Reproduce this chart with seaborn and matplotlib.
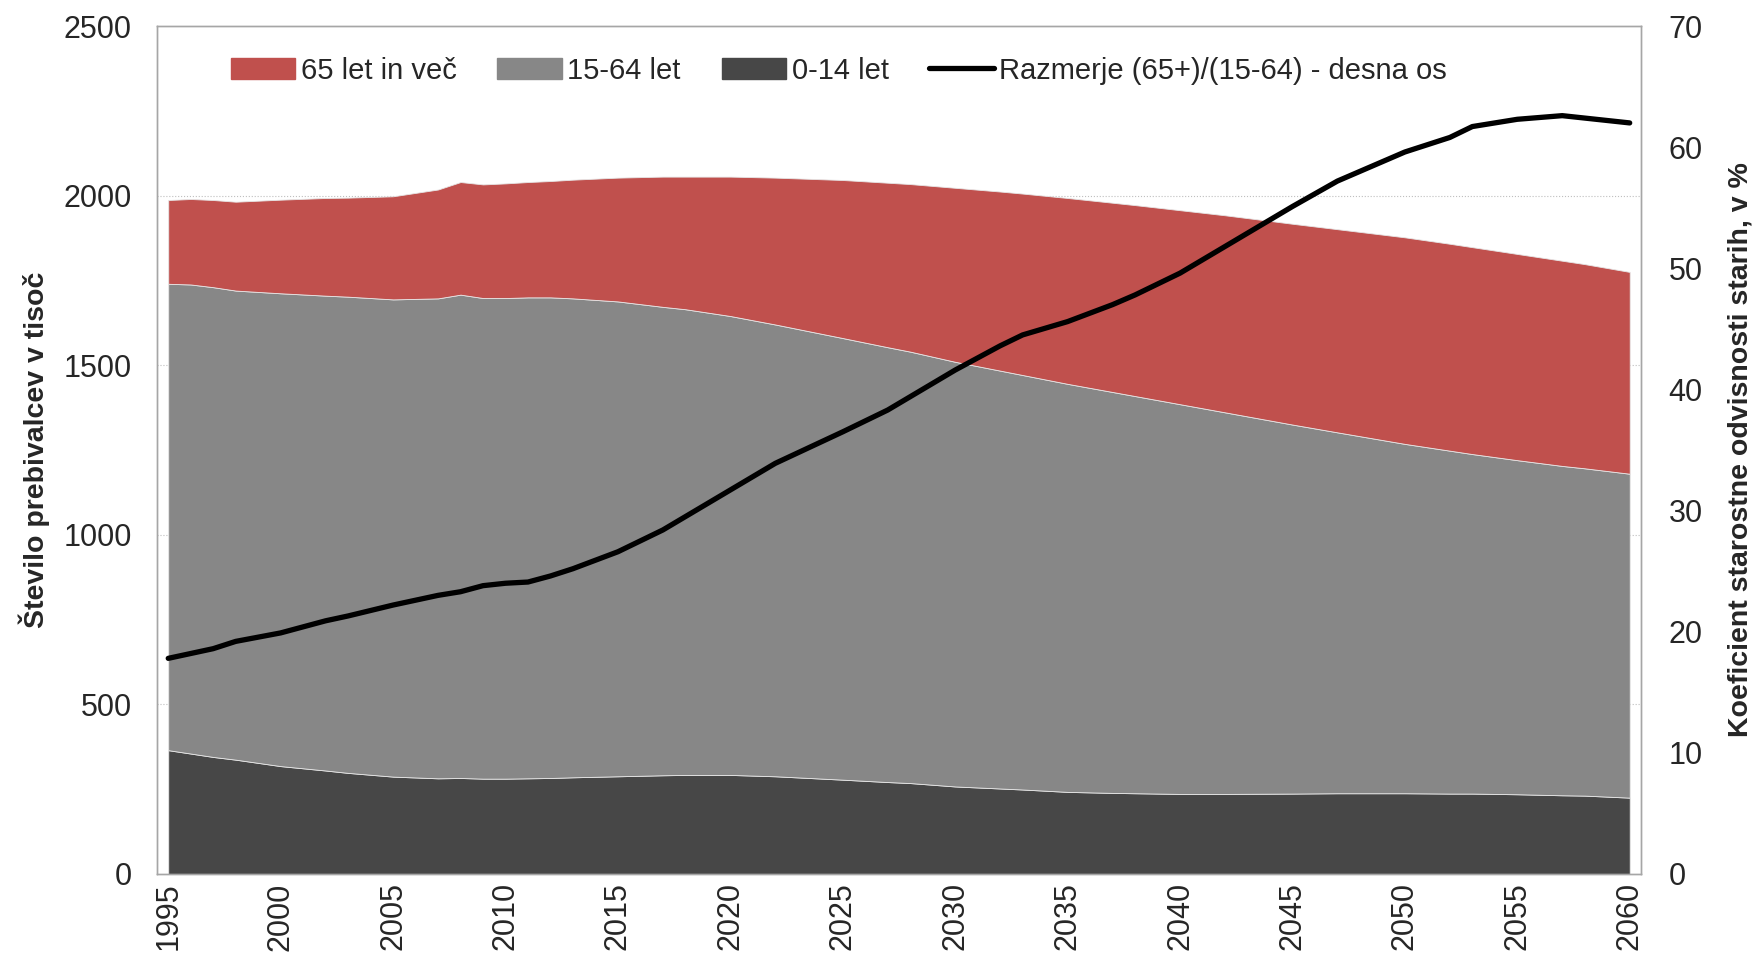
import numpy as np
import seaborn as sns
from matplotlib import pyplot as plt
from matplotlib.patches import Patch
from matplotlib.lines import Line2D

years = [1995, 1996, 1997, 1998, 2000, 2002, 2003, 2005, 2007, 2008, 2009, 2010,
         2011, 2012, 2013, 2015, 2017, 2018, 2020, 2022, 2025, 2027, 2028, 2030,
         2032, 2033, 2035, 2037, 2038, 2040, 2042, 2045, 2047, 2050, 2052, 2053,
         2055, 2057, 2058, 2060]
# population in thousands
pop_0_14 = [365, 355, 345, 337, 318, 305, 298, 287, 282, 283, 281, 281,
            282, 283, 285, 288, 291, 292, 292, 288, 278, 271, 268, 258,
            252, 249, 242, 239, 238, 236, 236, 237, 238, 238, 237, 237,
            235, 232, 231, 225]
pop_15_64 = [1375, 1383, 1385, 1383, 1394, 1400, 1404, 1407, 1415, 1425, 1417, 1417,
             1418, 1417, 1412, 1400, 1381, 1373, 1353, 1332, 1302, 1282, 1272, 1252,
             1232, 1222, 1203, 1182, 1171, 1149, 1125, 1088, 1064, 1030, 1011, 1001,
             985, 971, 965, 955]
pop_65 = [247, 252, 257, 262, 276, 288, 292, 304, 321, 332, 335, 338,
          340, 343, 350, 365, 384, 391, 411, 433, 466, 485, 494, 513,
          528, 535, 548, 558, 563, 572, 581, 592, 599, 609, 610, 610,
          608, 605, 602, 595]
# old-age dependency ratio, %
ratio = [17.8, 18.2, 18.6, 19.2, 19.9, 20.9, 21.3, 22.2, 23.0, 23.3, 23.8, 24.0,
         24.1, 24.6, 25.2, 26.6, 28.4, 29.5, 31.7, 33.9, 36.5, 38.3, 39.4, 41.6,
         43.6, 44.5, 45.6, 47.0, 47.8, 49.6, 51.8, 55.1, 57.2, 59.6, 60.8, 61.7,
         62.3, 62.6, 62.4, 62.0]

labels = ['0-14 let', '15-64 let', '65 let in več']
colors = ['#474747', '#878787', '#C0504D']
line_label = 'Razmerje (65+)/(15-64) - desna os'

sns.set_style('white')
plt.rcParams['font.family'] = ['Liberation Sans', 'DejaVu Sans']

fig = plt.figure(figsize=(17.62, 9.67), dpi=100)
ax = fig.add_axes([0.0891, 0.0962, 0.8422, 0.8769])

for yv in [500, 1000, 1500, 2000]:
    ax.axhline(yv, color='#bfbfbf', lw=0.8, ls=':', zorder=0)

ax.stackplot(years, pop_0_14, pop_15_64, pop_65, colors=colors,
             edgecolor='#e6e6e6', linewidth=0.6, zorder=2)
ax.set_xlim(1994.5, 2060.5)
ax.set_ylim(0, 2500)
ax.set_yticks(range(0, 2501, 500))
ax.set_xticks(range(1995, 2061, 5))
ax.tick_params(axis='x', labelrotation=90, labelsize=22, length=0, pad=6)
ax.tick_params(axis='y', labelsize=22, length=0, pad=18)
ax.set_ylabel('Število prebivalcev v tisoč', fontsize=20.5, fontweight='bold', labelpad=10)
for s in ax.spines.values():
    s.set_color('#a6a6a6')
    s.set_linewidth(1.0)

ax2 = ax.twinx()
sns.lineplot(x=years, y=ratio, ax=ax2, color='black', linewidth=3.8, zorder=3)
ax2.set_ylim(0, 70)
ax2.set_yticks(range(0, 71, 10))
ax2.tick_params(axis='y', labelsize=22, length=0, pad=20)
ax2.set_ylabel('Koeficient starostne odvisnosti starih, v %', fontsize=20.5,
               fontweight='bold', labelpad=18)
for s in ax2.spines.values():
    s.set_color('#a6a6a6')
    s.set_linewidth(1.0)

handles = [Patch(color=colors[2]), Patch(color=colors[1]), Patch(color=colors[0]),
           Line2D([], [], color='black', lw=3.8)]
ax2.legend(handles, [labels[2], labels[1], labels[0], line_label],
           loc='upper left', bbox_to_anchor=(0.032, 0.995), ncol=4, frameon=False,
           fontsize=21, handlelength=2.2, handleheight=0.7, handletextpad=0.2,
           columnspacing=1.4)

fig.savefig('out.png', dpi=100)
